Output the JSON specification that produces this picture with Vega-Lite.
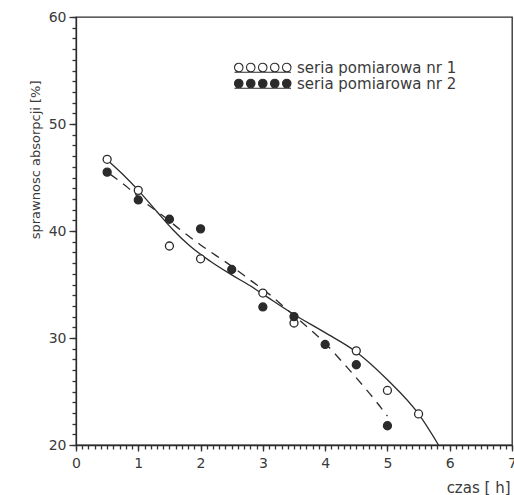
{
  "$schema": "https://vega.github.io/schema/vega-lite/v6.json",
  "width": 436,
  "height": 428,
  "autosize": {"type": "none"},
  "padding": {"left": 76, "top": 17, "right": 2, "bottom": 50},
  "background": "white",
  "config": {
    "font": "DejaVu Sans",
    "view": {"stroke": "#2b2b2b", "strokeWidth": 1.3},
    "axis": {
      "grid": false,
      "ticks": true,
      "domainColor": "#2b2b2b",
      "domainWidth": 1.3,
      "labelColor": "#3a3a3a",
      "labelFontSize": 14,
      "labelFont": "DejaVu Sans",
      "titleColor": "#3a3a3a",
      "titleFont": "DejaVu Sans",
      "titleFontSize": 13,
      "titleFontWeight": "normal",
      "labelOverlap": false,
      "labelFlush": false
    }
  },
  "datasets": {
    "pts": [
      {"czas": 0.5, "spr": 46.7, "seria": "seria pomiarowa nr 1"},
      {"czas": 1.0, "spr": 43.8, "seria": "seria pomiarowa nr 1"},
      {"czas": 1.5, "spr": 38.6, "seria": "seria pomiarowa nr 1"},
      {"czas": 2.0, "spr": 37.4, "seria": "seria pomiarowa nr 1"},
      {"czas": 3.0, "spr": 34.2, "seria": "seria pomiarowa nr 1"},
      {"czas": 3.5, "spr": 31.4, "seria": "seria pomiarowa nr 1"},
      {"czas": 4.5, "spr": 28.8, "seria": "seria pomiarowa nr 1"},
      {"czas": 5.0, "spr": 25.1, "seria": "seria pomiarowa nr 1"},
      {"czas": 5.5, "spr": 22.9, "seria": "seria pomiarowa nr 1"},
      {"czas": 0.5, "spr": 45.5, "seria": "seria pomiarowa nr 2"},
      {"czas": 1.0, "spr": 42.9, "seria": "seria pomiarowa nr 2"},
      {"czas": 1.5, "spr": 41.1, "seria": "seria pomiarowa nr 2"},
      {"czas": 2.0, "spr": 40.2, "seria": "seria pomiarowa nr 2"},
      {"czas": 2.5, "spr": 36.4, "seria": "seria pomiarowa nr 2"},
      {"czas": 3.0, "spr": 32.9, "seria": "seria pomiarowa nr 2"},
      {"czas": 3.5, "spr": 32.0, "seria": "seria pomiarowa nr 2"},
      {"czas": 4.0, "spr": 29.4, "seria": "seria pomiarowa nr 2"},
      {"czas": 4.5, "spr": 27.5, "seria": "seria pomiarowa nr 2"},
      {"czas": 5.0, "spr": 21.8, "seria": "seria pomiarowa nr 2"}
    ],
    "fit1": [
      {"czas": 0.47, "spr": 46.8},
      {"czas": 0.75, "spr": 45.3},
      {"czas": 1.0, "spr": 43.8},
      {"czas": 1.3, "spr": 41.8},
      {"czas": 1.56, "spr": 40.1},
      {"czas": 1.83, "spr": 38.6},
      {"czas": 2.15, "spr": 37.2},
      {"czas": 2.5, "spr": 35.9},
      {"czas": 2.79, "spr": 34.9},
      {"czas": 3.0, "spr": 34.1},
      {"czas": 3.5, "spr": 32.2},
      {"czas": 4.0, "spr": 30.5},
      {"czas": 4.5, "spr": 28.7},
      {"czas": 5.0, "spr": 26.1},
      {"czas": 5.5, "spr": 22.9},
      {"czas": 5.82, "spr": 20.0}
    ],
    "fit2": [
      {"czas": 0.55, "spr": 45.3},
      {"czas": 0.8, "spr": 44.2},
      {"czas": 1.1, "spr": 42.7},
      {"czas": 1.4, "spr": 41.4},
      {"czas": 1.7, "spr": 40.0},
      {"czas": 2.0, "spr": 38.7},
      {"czas": 2.5, "spr": 36.7},
      {"czas": 2.8, "spr": 35.4},
      {"czas": 3.1, "spr": 34.1},
      {"czas": 3.4, "spr": 32.6},
      {"czas": 3.7, "spr": 31.1},
      {"czas": 4.0, "spr": 29.5},
      {"czas": 4.3, "spr": 27.6},
      {"czas": 4.6, "spr": 25.6},
      {"czas": 4.8, "spr": 24.2},
      {"czas": 5.0, "spr": 22.7}
    ]
  },
  "layer": [
    {
      "data": {"name": "fit1"},
      "mark": {"type": "line", "interpolate": "monotone", "color": "#2b2b2b", "strokeWidth": 1.3},
      "encoding": {
        "x": {
          "field": "czas",
          "type": "quantitative",
          "scale": {"domain": [0, 7], "nice": false, "zero": false},
          "axis": {
            "orient": "bottom",
            "title": null,
            "labels": false,
            "domain": false,
            "tickSize": 4,
            "tickColor": "#333333",
            "tickWidth": 1.3,
            "values": [0,0.1,0.2,0.3,0.4,0.5,0.6,0.7,0.8,0.9,1,1.1,1.2,1.3,1.4,1.5,1.6,1.7,1.8,1.9,2,2.1,2.2,2.3,2.4,2.5,2.6,2.7,2.8,2.9,3,3.1,3.2,3.3,3.4,3.5,3.6,3.7,3.8,3.9,4,4.1,4.2,4.3,4.4,4.5,4.6,4.7,4.8,4.9,5,5.1,5.2,5.3,5.4,5.5,5.6,5.7,5.8,5.9,6,6.1,6.2,6.3,6.4,6.5,6.6,6.7,6.8,6.9,7]
          }
        },
        "y": {
          "field": "spr",
          "type": "quantitative",
          "scale": {"domain": [20, 60], "nice": false, "zero": false},
          "axis": {
            "orient": "left",
            "title": null,
            "labels": false,
            "domain": false,
            "tickSize": 4,
            "tickColor": "#333333",
            "tickWidth": 1.3,
            "values": [20,21,22,23,24,25,26,27,28,29,30,31,32,33,34,35,36,37,38,39,40,41,42,43,44,45,46,47,48,49,50,51,52,53,54,55,56,57,58,59,60]
          }
        }
      }
    },
    {
      "data": {"name": "fit2"},
      "mark": {"type": "line", "interpolate": "monotone", "color": "#2b2b2b", "strokeWidth": 1.3, "strokeDash": [9, 7]},
      "encoding": {
        "x": {
          "field": "czas",
          "type": "quantitative",
          "axis": {
            "orient": "bottom",
            "title": "czas [ h]",
            "titleFontSize": 15,
            "titleAnchor": "end",
            "titleAlign": "right",
            "titleBaseline": "middle",
            "titleX": 434,
            "titleY": 42,
            "values": [0, 1, 2, 3, 4, 5, 6, 7],
            "tickSize": 6,
            "tickColor": "#333333",
            "tickWidth": 1.3,
            "labelPadding": 5
          }
        },
        "y": {
          "field": "spr",
          "type": "quantitative",
          "axis": {
            "orient": "left",
            "title": "sprawnosc absorpcji [%]",
            "titleAngle": -90,
            "titleAnchor": "end",
            "titleAlign": "right",
            "titleBaseline": "middle",
            "titleX": -41,
            "titleY": 63,
            "values": [20, 30, 40, 50, 60],
            "tickSize": 7,
            "tickColor": "#333333",
            "tickWidth": 1.3,
            "labelPadding": 3
          }
        }
      }
    },
    {
      "data": {"name": "pts"},
      "mark": {"type": "point", "shape": "circle", "filled": true, "size": 64, "stroke": "#2b2b2b", "strokeWidth": 1.3, "opacity": 1},
      "encoding": {
        "x": {"field": "czas", "type": "quantitative", "axis": null},
        "y": {"field": "spr", "type": "quantitative", "axis": null},
        "fill": {
          "field": "seria",
          "type": "nominal",
          "scale": {"domain": ["seria pomiarowa nr 1", "seria pomiarowa nr 2"], "range": ["white", "#2b2b2b"]},
          "legend": {
            "orient": "none",
            "legendX": 151,
            "legendY": 43,
            "title": null,
            "symbolType": "M0,0a0.85,0.85 0 1,0 1.7,0a0.85,0.85 0 1,0 -1.7,0M2.4,0a0.85,0.85 0 1,0 1.7,0a0.85,0.85 0 1,0 -1.7,0M4.8,0a0.85,0.85 0 1,0 1.7,0a0.85,0.85 0 1,0 -1.7,0M7.2,0a0.85,0.85 0 1,0 1.7,0a0.85,0.85 0 1,0 -1.7,0M9.6,0a0.85,0.85 0 1,0 1.7,0a0.85,0.85 0 1,0 -1.7,0M0,0.95L11.3,0.95",
            "symbolSize": 100,
            "symbolStrokeColor": "#2b2b2b",
            "symbolStrokeWidth": 1.1,
            "labelFontSize": 15,
            "labelColor": "#3a3a3a",
            "labelOffset": 55,
            "rowPadding": 0
          }
        }
      }
    }
  ],
  "resolve": {"axis": {"x": "independent", "y": "independent"}}
}
